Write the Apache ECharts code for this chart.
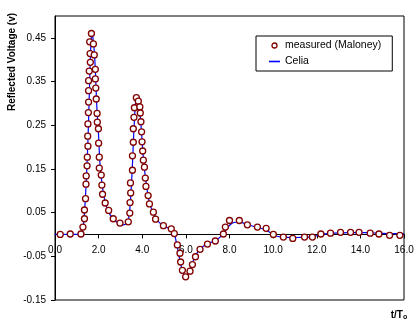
<!DOCTYPE html>
<html><head><meta charset="utf-8">
<script src="https://cdn.jsdelivr.net/npm/echarts@6/dist/echarts.min.js"></script>
<style>html,body{margin:0;padding:0;background:#fff}#c{width:419px;height:325px}</style>
</head><body><div id="c"></div>
<script>
const FONT = "'Liberation Sans', Arial, sans-serif";

// measured (Maloney) points
const measuredX = [0.24,0.70,1.19,1.28,1.35,1.35,1.40,1.42,1.43,1.47,1.48,1.51,1.50,1.51,1.53,1.54,1.54,1.54,1.57,1.62,1.61,1.59,1.67,
  1.76,1.80,1.85,1.85,1.87,1.89,1.93,1.94,1.99,2.00,2.03,2.03,2.12,2.15,2.18,2.30,2.46,2.67,2.98,3.36,
  3.43,3.44,3.47,3.46,3.55,3.55,3.59,3.59,3.62,3.64,3.73,3.82,3.89,3.91,3.94,3.97,3.99,4.02,4.05,4.10,4.14,4.17,4.27,4.33,4.51,4.61,4.97,5.33,5.47,
  5.61,5.73,5.76,5.84,5.99,6.19,6.30,6.44,6.65,6.99,7.35,7.72,7.81,8.00,8.45,8.82,9.28,9.68,10.01,10.47,10.90,11.44,11.80,12.19,12.63,13.09,13.55,13.94,14.45,14.85,15.34,15.81];
const measuredY = [0.000,0.001,0.001,0.017,0.036,0.056,0.082,0.115,0.134,0.157,0.177,0.202,0.225,0.253,0.279,0.303,0.329,0.352,0.374,0.394,0.414,0.441,0.460,
  0.436,0.411,0.378,0.356,0.335,0.310,0.277,0.257,0.242,0.209,0.177,0.152,0.136,0.113,0.092,0.072,0.055,0.036,0.026,0.029,
  0.049,0.073,0.095,0.118,0.147,0.180,0.211,0.242,0.268,0.290,0.313,0.305,0.292,0.278,0.258,0.235,0.212,0.191,0.170,0.154,0.129,0.110,0.089,0.070,0.051,0.035,0.020,0.013,0.002,
  -0.024,-0.043,-0.063,-0.082,-0.097,-0.084,-0.069,-0.051,-0.034,-0.022,-0.015,0.001,0.017,0.032,0.032,0.022,0.017,0.014,0.000,-0.006,-0.009,-0.006,-0.006,0.001,0.003,0.005,0.005,0.005,0.003,0.001,-0.002,-0.002];

// Celia (computed curve)
const celiaX = [0,0.5,1.0,1.2,1.3,1.35,1.4,1.45,1.5,1.55,1.6,1.65,1.7,1.75,1.8,1.85,1.9,1.95,2.0,2.05,2.1,2.2,2.3,2.4,2.5,2.7,2.9,3.1,3.25,3.35,3.4,3.45,3.5,3.55,3.6,3.65,3.7,3.75,3.8,3.85,3.9,3.95,4.0,4.05,4.1,4.2,4.3,4.4,4.5,4.7,4.9,5.1,5.3,5.45,5.55,5.65,5.75,5.85,5.95,6.0,6.05,6.15,6.3,6.45,6.6,6.8,7.0,7.3,7.5,7.7,7.9,8.1,8.3,8.5,8.7,9.0,9.3,9.6,9.9,10.1,10.4,11.0,11.6,12.0,12.3,12.8,13.5,14.2,14.8,15.5,16.0];
const celiaY = [0,0,0,0.002,0.02,0.05,0.09,0.14,0.20,0.28,0.37,0.44,0.463,0.445,0.42,0.375,0.31,0.265,0.225,0.17,0.14,0.10,0.075,0.058,0.047,0.034,0.026,0.022,0.024,0.032,0.045,0.07,0.11,0.16,0.22,0.27,0.305,0.315,0.31,0.295,0.275,0.245,0.21,0.175,0.15,0.11,0.08,0.062,0.05,0.032,0.022,0.017,0.012,0.004,-0.015,-0.04,-0.065,-0.085,-0.098,-0.10,-0.097,-0.085,-0.065,-0.048,-0.036,-0.027,-0.021,-0.015,-0.009,0.0,0.015,0.025,0.028,0.028,0.025,0.02,0.016,0.012,0.003,-0.003,-0.006,-0.007,-0.006,-0.003,0.001,0.003,0.004,0.004,0.003,0.002,0.002];

const xTickValues = [0,2,4,6,8,10,12,14,16];
const yTickValues = [-0.15,-0.05,0.05,0.15,0.25,0.35,0.45];
const yMin = -0.15, yMax = 0.5;

const GRID = {left:55, right:15, top:16, bottom:25};
const plotH = 325 - GRID.top - GRID.bottom;
// move the x axis (line, ticks, labels) up to y = 0
const xAxisOffset = -plotH * (0 - yMin) / (yMax - yMin);

const chart = echarts.init(document.getElementById('c'), null, {renderer:'canvas'});
chart.setOption({
  animation: false,
  backgroundColor: '#fff',
  textStyle: {fontFamily: FONT},
  grid: Object.assign({show:true, borderColor:'#000', borderWidth:1, backgroundColor:'transparent'}, GRID),
  legend: {
    orient:'vertical', left:256, top:36, padding:[4,11,4,13], itemGap:5,
    itemWidth:11, itemHeight:5, itemSymbolKeepAspect:true,
    borderColor:'#000', borderWidth:1, backgroundColor:'#fff',
    textStyle:{fontFamily:FONT, fontSize:10.5, color:'#000'},
    data:[
      {name:'measured (Maloney)', icon:'circle', itemStyle:{color:'#fff', borderColor:'#800000', borderWidth:1.3}},
      {name:'Celia', icon:'path://M0,0H11V1.6H0Z', itemStyle:{color:'#0000ff', borderColor:'#0000ff', borderWidth:0}, lineStyle:{color:'#0000ff'}}
    ]
  },
  xAxis: {
    type:'value', min:0, max:16, position:'bottom', offset:xAxisOffset,
    axisLine:{show:true, onZero:false, lineStyle:{color:'#000', width:1}},
    axisTick:{show:true, length:4, lineStyle:{color:'#000'}, customValues:xTickValues},
    axisLabel:{color:'#000', fontSize:10, fontFamily:FONT, margin:11, customValues:xTickValues, formatter:v=>v.toFixed(1)},
    splitLine:{show:false}
  },
  yAxis: {
    type:'value', min:yMin, max:yMax,
    axisLine:{show:true, onZero:false, lineStyle:{color:'#000', width:1}},
    axisTick:{show:true, length:4, lineStyle:{color:'#000'}, customValues:yTickValues},
    axisLabel:{color:'#000', fontSize:10, fontFamily:FONT, margin:9, customValues:yTickValues, formatter:v=>v.toFixed(2)},
    splitLine:{show:false}
  },
  graphic: [
    {type:'text', x:12, y:62, rotation:Math.PI/2, style:{text:'Reflected Voltage (v)', font:"bold 10px "+FONT, fill:'#000', align:'center', verticalAlign:'middle'}},
    {type:'text', x:399, y:315, style:{text:'{a|t/T}{b|o}', align:'center', verticalAlign:'middle',
      rich:{a:{font:"bold 10px "+FONT, fill:'#000'}, b:{font:"bold 7px "+FONT, fill:'#000', padding:[5,0,0,0]}}}}
  ],
  series: [
    {name:'Celia', type:'line', data:celiaX.map((x,i)=>[x,celiaY[i]]), showSymbol:false, symbol:'none',
     smooth:0.3, lineStyle:{color:'#0000ff', width:1.2}, itemStyle:{color:'#0000ff'}, z:2},
    {name:'measured (Maloney)', type:'scatter', data:measuredX.map((x,i)=>[x,measuredY[i]]), symbol:'circle', symbolSize:6,
     itemStyle:{color:'#fff', borderColor:'#800000', borderWidth:1.3, opacity:1}, z:3}
  ]
});
</script></body></html>
